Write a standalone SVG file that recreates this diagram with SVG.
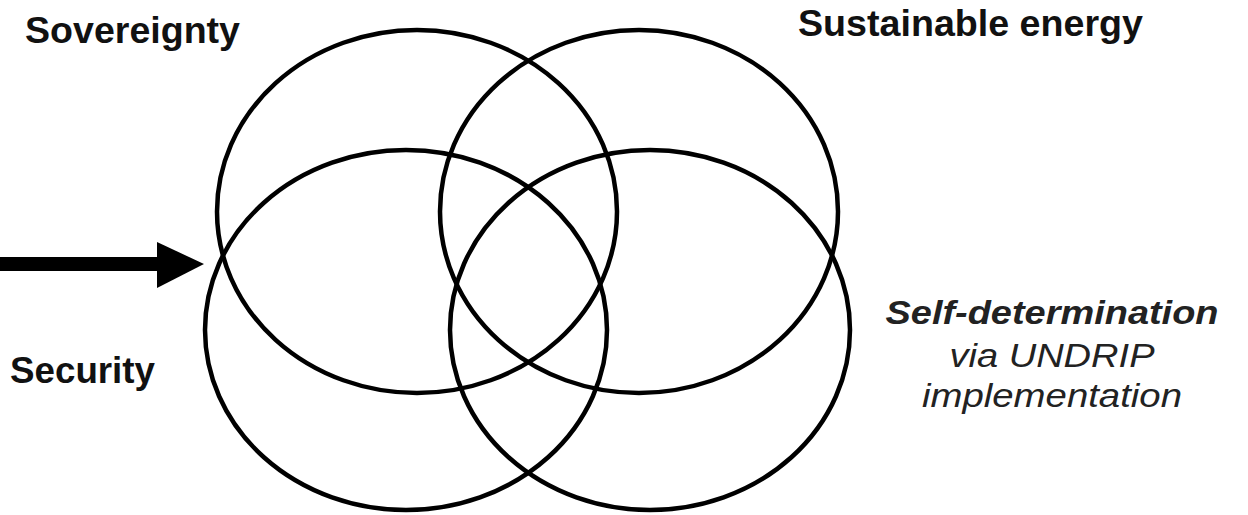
<svg xmlns="http://www.w3.org/2000/svg" width="1248" height="515" viewBox="0 0 1248 515">
<style>
.ring{fill:none;stroke:#000;stroke-width:4.5}
.lbl{font-family:"Liberation Sans",Arial,Helvetica,sans-serif;font-size:37px;font-weight:bold;fill:#111}
.rt{font-family:"Liberation Sans",Arial,Helvetica,sans-serif;font-size:34px;font-style:italic;fill:#222;text-anchor:middle}
</style>
<rect width="1248" height="515" fill="#fff"/>
<g id="sovereignty">
<ellipse class="ring" cx="417" cy="211.5" rx="200" ry="181.5"/>
<text class="lbl" x="25" y="43" textLength="215" lengthAdjust="spacingAndGlyphs">Sovereignty</text>
</g>
<g id="sustainable-energy">
<ellipse class="ring" cx="639" cy="211.5" rx="199" ry="181.5"/>
<text class="lbl" x="798" y="36" textLength="345" lengthAdjust="spacingAndGlyphs">Sustainable energy</text>
</g>
<g id="security">
<ellipse class="ring" cx="406" cy="330" rx="201" ry="180"/>
<text class="lbl" x="10" y="383" textLength="145" lengthAdjust="spacingAndGlyphs">Security</text>
</g>
<g id="self-determination">
<ellipse class="ring" cx="650" cy="330" rx="200" ry="180"/>
<text class="rt" x="1052" y="324" font-weight="bold" fill="#111" textLength="333" lengthAdjust="spacingAndGlyphs">Self-determination</text>
<text class="rt" x="1052" y="367" textLength="205" lengthAdjust="spacingAndGlyphs">via UNDRIP</text>
<text class="rt" x="1052" y="407" textLength="260" lengthAdjust="spacingAndGlyphs">implementation</text>
</g>
<g id="connectors">
<rect x="0" y="257" width="160" height="14" fill="#000"/>
<polygon points="157,242 204,264 157,288" fill="#000"/>
</g>
</svg>
